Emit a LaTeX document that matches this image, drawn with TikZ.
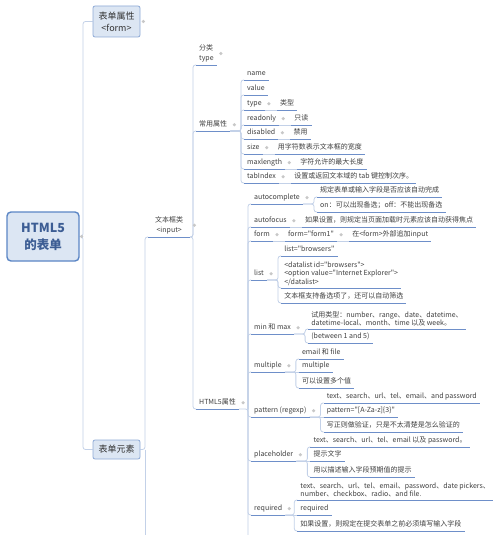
\documentclass[tikz,border=0pt]{standalone}
\usepackage{fontspec}
\newfontfamily\cjk{Noto Sans CJK SC}
\definecolor{txt}{HTML}{404040}
\definecolor{tpt}{HTML}{333333}
\definecolor{lnc}{HTML}{C3D1E8}
\definecolor{ulc}{HTML}{6E8FC9}
\definecolor{boxf}{HTML}{DCE6F3}
\definecolor{boxd}{HTML}{8EAAD6}
\definecolor{rootd}{HTML}{5B86C5}
\definecolor{roott}{HTML}{3C5D94}
\definecolor{knc}{HTML}{C8C8C8}
\pgfdeclarelayer{bg}
\pgfsetlayers{bg,main}
\begin{document}
\begin{tikzpicture}[x=1pt,y=-1pt,
  base/.style={font=\cjk\fontsize{7}{8.5}\selectfont, text=txt},
  leaf/.style={base, anchor=south west, inner xsep=3pt, inner ysep=2.5pt, text height=5.6pt, text depth=1.6pt},
  mleaf/.style={base, anchor=south west, align=left, inner xsep=3pt, inner ysep=2.5pt},
  ulline/.style={draw=ulc, line width=0.9pt},
  conn/.style={draw=lnc, line width=0.8pt, rounded corners=2.5pt},
  knob/.style={circle, fill=knc, inner sep=0pt, minimum size=3.5pt},
  topic/.style={draw=boxd, fill=boxf, line width=0.8pt, rounded corners=2pt, minimum width=47pt, align=center, text=tpt, font=\cjk\fontsize{9}{12}\selectfont, inner sep=1pt},
  rootbox/.style={draw=rootd, fill=boxf, line width=1.4pt, rounded corners=4pt, minimum width=72pt, minimum height=49pt, align=center, text=roott, font=\cjk\bfseries\fontsize{12.5}{17}\selectfont},
]
\useasboundingbox (0,0) rectangle (500,535);
\clip (0,0) rectangle (500,535);
\begin{pgfonlayer}{bg}
\fill[white] (0,0) rectangle (500,535);
\end{pgfonlayer}

% main topics
\node[rootbox] (root) at (43,236.5) {HTML5\\的表单};
\node[topic, minimum height=31pt] (form) at (116.5,21.5) {表单属性\\<form>};
\node[topic, minimum height=19pt] (elem) at (116.5,449.5) {表单元素};
\node[mleaf, align=center, minimum width=42pt, font=\cjk\fontsize{7}{10.5}\selectfont] (input) at (148,237) {文本框类\\<input>};
\node[mleaf, font=\cjk\fontsize{7}{10}\selectfont] (cat) at (196,65) {分类\\type};
\node[leaf] (common) at (196,131) {常用属性};
\node[leaf] (h5) at (196,409) {HTML5属性};

% common attributes
\node[leaf] (c1) at (244,80) {name};
\node[leaf] (c2) at (244,95) {value};
\node[leaf] (c3) at (244,110) {type};
\node[leaf] (c4) at (244,125) {readonly};
\node[leaf] (c5) at (244,139) {disabled};
\node[leaf] (c6) at (244,154) {size};
\node[leaf] (c7) at (244,169) {maxlength};
\node[leaf] (c8) at (244,183) {tabIndex};
\node[leaf, xshift=12pt] (c3a) at (c3.south east) {类型};
\node[leaf, xshift=12pt] (c4a) at (c4.south east) {只读};
\node[leaf, xshift=12pt] (c5a) at (c5.south east) {禁用};
\node[leaf, xshift=12pt] (c6a) at (c6.south east) {用字符数表示文本框的宽度};
\node[leaf, xshift=12pt] (c7a) at (c7.south east) {字符允许的最大长度};
\node[leaf, xshift=12pt] (c8a) at (c8.south east) {设置或返回文本域的 tab 键控制次序。};

% HTML5 attributes
\node[leaf] (ac) at (251,204) {autocomplete};
\node[leaf] (af) at (251,227) {autofocus};
\node[leaf] (fm) at (251,241) {form};
\node[leaf] (ls) at (251,280) {list};
\node[leaf] (mm) at (251,334) {min 和 max};
\node[leaf] (mu) at (251,372) {multiple};
\node[leaf] (pt) at (251,417) {pattern (regexp)};
\node[leaf] (ph) at (251,461) {placeholder};
\node[leaf] (rq) at (251,515) {required};

\coordinate (acS) at ([xshift=11pt]ac.south east);
\node[leaf, xshift=3pt] (ac1) at (acS |- 0,197) {规定表单或输入字段是否应该自动完成};
\node[leaf, xshift=3pt] (ac2) at (acS |- 0,212) {on：可以出现备选；off：不能出现备选};
\node[leaf, xshift=12pt] (af1) at (af.south east) {如果设置，则规定当页面加载时元素应该自动获得焦点};
\node[leaf, xshift=12pt] (fm1) at (fm.south east) {form="form1"};
\node[leaf, xshift=12pt] (fm2) at (fm1.south east) {在<form>外部追加input};

\coordinate (lsS) at ([xshift=11pt]ls.south east);
\node[leaf, xshift=3pt] (ls1) at (lsS |- 0,256) {list="browsers"};
\node[mleaf, xshift=3pt] (ls2) at (lsS |- 0,288) {<datalist id="browsers">\\<option value="Internet Explorer">\\</datalist>};
\node[leaf, xshift=3pt] (ls3) at (lsS |- 0,303) {文本框支持备选项了，还可以自动筛选};

\coordinate (mmS) at ([xshift=11pt]mm.south east);
\node[mleaf, xshift=3pt] (mm1) at (mmS |- 0,329) {试用类型：number、range、date、datetime、\\datetime-local、month、time 以及 week。};
\node[leaf, xshift=3pt] (mm2) at (mmS |- 0,343) {(between 1 and 5)};

\coordinate (muS) at ([xshift=11pt]mu.south east);
\node[leaf, xshift=3pt] (mu1) at (muS |- 0,359) {email 和 file};
\node[leaf, xshift=3pt] (mu2) at (muS |- 0,372) {multiple};
\node[leaf, xshift=3pt] (mu3) at (muS |- 0,388) {可以设置多个值};

\coordinate (ptS) at ([xshift=11pt]pt.south east);
\node[leaf, xshift=3pt] (pt1) at (ptS |- 0,403) {text、search、url、tel、email、and password};
\node[leaf, xshift=3pt] (pt2) at (ptS |- 0,417) {pattern="[A-Za-z]\{3\}"};
\node[leaf, xshift=3pt] (pt3) at (ptS |- 0,432) {写正则做验证，只是不太清楚是怎么验证的};

\coordinate (phS) at ([xshift=11pt]ph.south east);
\node[leaf, xshift=3pt] (ph1) at (phS |- 0,447) {text、search、url、tel、email 以及 password。};
\node[leaf, xshift=3pt] (ph2) at (phS |- 0,461) {提示文字};
\node[leaf, xshift=3pt] (ph3) at (phS |- 0,477) {用以描述输入字段预期值的提示};

\coordinate (rqS) at ([xshift=9pt]rq.south east);
\node[mleaf, xshift=3pt] (rq1) at (rqS |- 0,500) {text、search、url、tel、email、password、date pickers、\\number、checkbox、radio、and file.};
\node[leaf, xshift=3pt] (rq2) at (rqS |- 0,515) {required};
\node[leaf, xshift=3pt] (rq3) at (rqS |- 0,531) {如果设置，则规定在提交表单之前必须填写输入字段};

\coordinate (elemEnd) at (145,545);
\coordinate (h5End) at (248,545);

% underlines
\foreach \nd in {input,cat,common,h5,c1,c2,c3,c4,c5,c6,c7,c8,c3a,c4a,c5a,c6a,c7a,c8a,
  ac,ac1,ac2,af,af1,fm,fm1,fm2,ls,ls1,ls2,ls3,mm,mm1,mm2,mu,mu1,mu2,mu3,
  pt,pt1,pt2,pt3,ph,ph1,ph2,ph3,rq,rq1,rq2,rq3}
  \draw[ulline] (\nd.south west) -- (\nd.south east);

% knobs
\foreach \nd in {input,cat,common,h5,c3,c4,c5,c6,c7,c8,ac,af,fm,fm1,ls,mm,mu,pt,ph,rq}
  \node[knob] (k-\nd) at ([xshift=4pt]\nd.east) {};
\node[knob] (k-form) at ([xshift=3pt]form.east) {};
\node[knob] (k-root) at ([xshift=2pt]root.east) {};

% connectors
\begin{pgfonlayer}{bg}
\draw[conn] (root.east) -- (root.east -| 83,0) |- (form.west);
\draw[conn] (root.east) -- (root.east -| 83,0) |- (elem.west);
\draw[conn] (elem.east) -- (elem.east -| 145,0) |- (input.south west);
\draw[conn] (elem.east -| 145,0) -- (elemEnd);
\foreach \nd in {cat,common,h5}
  \draw[conn] (input.south east) -- (input.south east -| 193,0) |- (\nd.south west);
\foreach \nd in {c1,c2,c3,c4,c5,c6,c7,c8}
  \draw[conn] (common.south east) -- (common.south east -| 241,0) |- (\nd.south west);
\foreach \nd in {c3,c4,c5,c6,c7,c8}
  \draw[conn] (\nd.south east) -- (\nd a.south west);
\draw[conn] (h5.south east) -- (h5.south east -| 248,0) -- (h5End);
\foreach \nd in {ac,af,fm,ls,mm,mu,pt,ph,rq}
  \draw[conn] (h5.south east -| 248,0) |- (\nd.south west);
\foreach \nd in {ac1,ac2}
  \draw[conn] (ac.south east) -- (acS) |- (\nd.south west);
\draw[conn] (af.south east) -- (af1.south west);
\draw[conn] (fm.south east) -- (fm1.south west);
\draw[conn] (fm1.south east) -- (fm2.south west);
\foreach \nd in {ls1,ls2,ls3}
  \draw[conn] (ls.south east) -- (lsS) |- (\nd.south west);
\foreach \nd in {mm1,mm2}
  \draw[conn] (mm.south east) -- (mmS) |- (\nd.south west);
\foreach \nd in {mu1,mu3}
  \draw[conn] (mu.south east) -- (muS) |- (\nd.south west);
\draw[conn] (mu.south east) -- (mu2.south west);
\foreach \nd in {pt1,pt3}
  \draw[conn] (pt.south east) -- (ptS) |- (\nd.south west);
\draw[conn] (pt.south east) -- (pt2.south west);
\foreach \nd in {ph1,ph3}
  \draw[conn] (ph.south east) -- (phS) |- (\nd.south west);
\draw[conn] (ph.south east) -- (ph2.south west);
\foreach \nd in {rq1,rq3}
  \draw[conn] (rq.south east) -- (rqS) |- (\nd.south west);
\draw[conn] (rq.south east) -- (rq2.south west);
\end{pgfonlayer}
\end{tikzpicture}
\end{document}
